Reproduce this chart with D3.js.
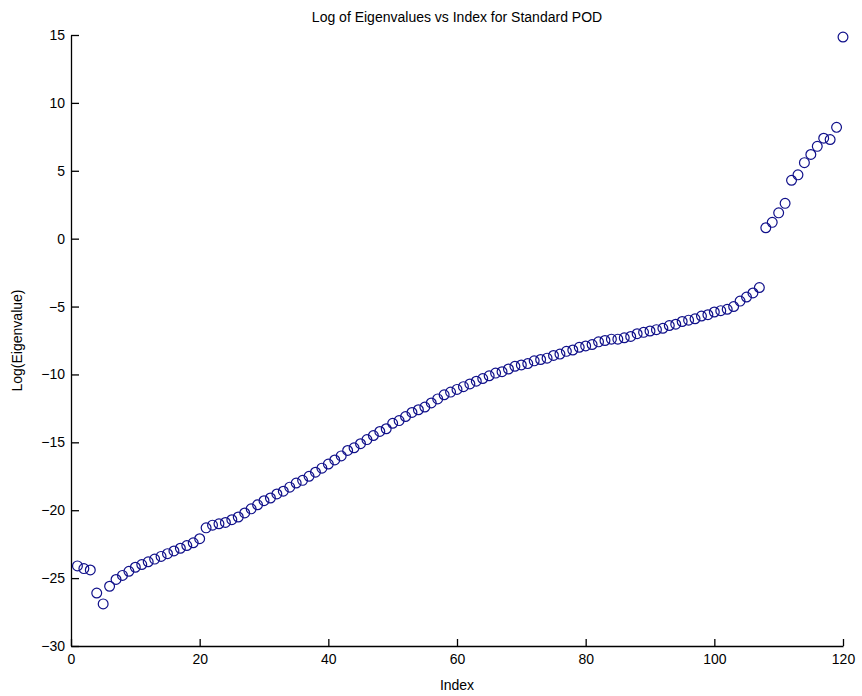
<!DOCTYPE html>
<html>
<head>
<meta charset="utf-8">
<script src="https://cdn.jsdelivr.net/npm/d3@7"></script>
<style>
  html, body { margin: 0; padding: 0; background: #fff; }
  svg { display: block; }
  text { font-family: "Liberation Sans", Arial, Helvetica, sans-serif; fill: #000; }
</style>
</head>
<body>
<script>
const title = "Log of Eigenvalues vs Index for Standard POD";
const xLabel = "Index";
const yLabel = "Log(Eigenvalue)";
const xTicks = [0, 20, 40, 60, 80, 100, 120];
const yTicks = [-30, -25, -20, -15, -10, -5, 0, 5, 10, 15];
const index = d3.range(1, 121);
const logEigen = [
  -24.1, -24.3, -24.4, -26.1, -26.9, -25.6, -25.1, -24.8, -24.5, -24.2,
  -24.0, -23.8, -23.6, -23.4, -23.2, -23.0, -22.8, -22.6, -22.4, -22.1,
  -21.3, -21.1, -21.0, -20.9, -20.7, -20.5, -20.2, -19.9, -19.6, -19.3,
  -19.1, -18.8, -18.6, -18.3, -18.0, -17.8, -17.5, -17.2, -16.9, -16.6,
  -16.3, -16.0, -15.6, -15.4, -15.1, -14.8, -14.5, -14.2, -14.0, -13.6,
  -13.4, -13.1, -12.8, -12.6, -12.4, -12.1, -11.8, -11.5, -11.3, -11.1,
  -10.9, -10.7, -10.5, -10.3, -10.1, -9.9, -9.8, -9.6, -9.4, -9.3,
  -9.2, -9.0, -8.9, -8.8, -8.6, -8.5, -8.3, -8.2, -8.0, -7.9,
  -7.8, -7.6, -7.5, -7.4, -7.4, -7.3, -7.2, -7.0, -6.9, -6.8,
  -6.7, -6.6, -6.4, -6.3, -6.1, -6.0, -5.9, -5.7, -5.6, -5.4,
  -5.3, -5.2, -5.0, -4.6, -4.3, -4.0, -3.6, 0.8, 1.2, 1.9,
  2.6, 4.3, 4.7, 5.6, 6.2, 6.8, 7.4, 7.3, 8.2, 14.85
];

const W = 862, H = 696;
const mLeft = 71, mRight = 843, mTop = 35, mBottom = 646;

const svg = d3.select("body").append("svg").attr("width", W).attr("height", H);

const x = d3.scaleLinear().domain([0, 120]).range([mLeft, mRight]);
const y = d3.scaleLinear().domain([-30, 15]).range([mBottom, mTop]);

const fmt = d3.format("d");

const gx = svg.append("g").attr("transform", `translate(0,${mBottom})`)
  .call(d3.axisBottom(x).tickValues(xTicks).tickFormat(fmt).tickSizeInner(-7).tickSizeOuter(0).tickPadding(8));
const gy = svg.append("g").attr("transform", `translate(${mLeft},0)`)
  .call(d3.axisLeft(y).tickValues(yTicks).tickFormat(fmt).tickSizeInner(-8).tickSizeOuter(0).tickPadding(6));

[gx, gy].forEach(g => {
  g.selectAll("path.domain").attr("stroke", "#000").attr("stroke-width", 1.3);
  g.selectAll(".tick line").attr("stroke", "#000").attr("stroke-width", 1.3);
  g.selectAll(".tick text").attr("font-size", 14).attr("font-family", "'Liberation Sans', Arial, sans-serif").attr("fill", "#000");
});

svg.append("g").selectAll("circle")
  .data(index.map((d, i) => ({ i: d, v: logEigen[i] })))
  .join("circle")
  .attr("cx", d => x(d.i))
  .attr("cy", d => y(d.v))
  .attr("r", 4.9)
  .attr("fill", "none")
  .attr("stroke", "#10108a")
  .attr("stroke-width", 1.2);

svg.append("text")
  .attr("x", (mLeft + mRight) / 2).attr("y", 22)
  .attr("text-anchor", "middle").attr("font-size", 14)
  .text(title);

svg.append("text")
  .attr("x", (mLeft + mRight) / 2).attr("y", 690)
  .attr("text-anchor", "middle").attr("font-size", 14)
  .text(xLabel);

svg.append("text")
  .attr("transform", `translate(22,${(mTop + mBottom) / 2}) rotate(-90)`)
  .attr("text-anchor", "middle").attr("font-size", 14)
  .text(yLabel);
</script>
</body>
</html>
